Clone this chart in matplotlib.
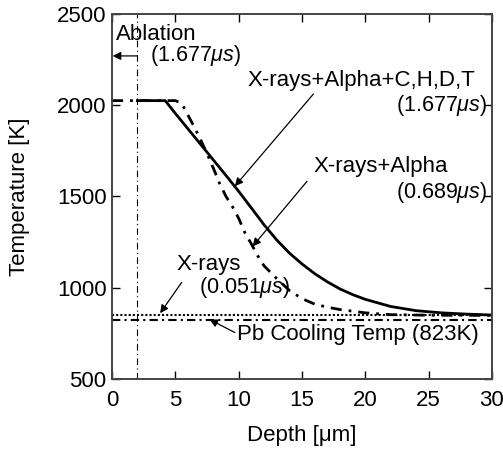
import numpy as np
import matplotlib
matplotlib.use('Agg')
import matplotlib.pyplot as plt

plt.rcParams['font.family'] = ['Liberation Sans', 'DejaVu Sans']
plt.rcParams['mathtext.fontset'] = 'custom'
plt.rcParams['mathtext.rm'] = 'Liberation Sans'
plt.rcParams['mathtext.it'] = 'Liberation Sans:italic'

# X-rays+Alpha+C,H,D,T (1.677us) - solid
depth_full = [2, 4.2, 5, 6, 7, 8, 9, 10, 11, 12, 13, 14, 15, 16, 17, 18, 19, 20, 22, 24, 26, 28, 30]
temp_full = [2025, 2025, 1955, 1870, 1785, 1700, 1615, 1528, 1437, 1345, 1262, 1190, 1130, 1077,
             1032, 993, 962, 936, 897, 874, 862, 855, 850]

# X-rays+Alpha (0.689us) - dash dot
depth_alpha = [0, 5.0, 5.5, 6, 6.5, 7, 7.5, 8, 8.5, 9, 9.5, 10, 10.5, 11, 11.5, 12, 12.5, 13,
               14, 15, 16, 17, 18, 20, 22, 25, 30]
temp_alpha = [2025, 2025, 2010, 1945, 1880, 1810, 1735, 1655, 1570, 1500, 1445, 1380, 1300, 1240,
              1175, 1120, 1085, 1050, 985, 940, 910, 893, 880, 862, 852, 849, 848]

# X-rays (0.051us) - dotted
depth_xray = [0, 30]
temp_xray = [850, 850]

pb_cooling = 823
ablation_depth = 2

fig = plt.figure(figsize=(5.03, 4.5), dpi=100)
ax = fig.add_subplot(111)
fig.subplots_adjust(left=0.2227, right=0.978, top=0.969, bottom=0.158)

ax.plot(depth_full, temp_full, color='black', lw=2)
ax.plot(depth_alpha, temp_alpha, color='black', lw=2, linestyle=(0, (4, 2.5, 1, 2.5)))
ax.plot(depth_xray, temp_xray, color='black', lw=1.5, linestyle=(0, (1, 1)))
ax.axhline(pb_cooling, color='black', lw=1.5, linestyle=(0, (4, 2, 1, 2)))
ax.axvline(ablation_depth, color='black', lw=0.8, linestyle=(0, (6, 3, 1, 3)))

ax.set_xlim(0, 30)
ax.set_ylim(500, 2500)
ax.set_xticks([0, 5, 10, 15, 20, 25, 30])
ax.set_yticks([500, 1000, 1500, 2000, 2500])
ax.tick_params(direction='in', top=True, right=True, length=6, width=1, labelsize=16, pad=4)
ax.tick_params(axis='x', pad=8)
for s in ax.spines.values():
    s.set_color('#444444')
    s.set_linewidth(1.4)

ax.set_xlabel('Depth [μm]', fontsize=16)
ax.set_ylabel('Temperature [K]', fontsize=16)
ax.xaxis.set_label_coords(0.5, -0.126)
ax.yaxis.set_label_coords(-0.216, 0.5)

fs = 16
fs2 = 15.5
ap = dict(arrowstyle='-|>', color='black', lw=0.9, mutation_scale=12, shrinkA=0, shrinkB=0)

ax.text(0.3, 2385, 'Ablation', fontsize=fs, va='center')
ax.text(3.0, 2270, r'(1.677$\mu s$)', fontsize=fs2, va='center')
ax.annotate('', xy=(0.05, 2270), xytext=(ablation_depth, 2270), arrowprops=ap)

ax.text(10.7, 2138, 'X-rays+Alpha+C,H,D,T', fontsize=fs, va='center')
ax.text(29.6, 2000, r'(1.677$\mu s$)', fontsize=fs2, va='center', ha='right')
ax.annotate('', xy=(9.7, 1556), xytext=(15.9, 2061), arrowprops=ap)

ax.text(15.9, 1666, 'X-rays+Alpha', fontsize=fs, va='center')
ax.text(29.6, 1523, r'(0.689$\mu s$)', fontsize=fs2, va='center', ha='right')
ax.annotate('', xy=(11.1, 1226), xytext=(15.4, 1583), arrowprops=ap)

ax.text(5.1, 1127, 'X-rays', fontsize=fs, va='center')
ax.text(6.9, 1001, r'(0.051$\mu s$)', fontsize=fs2, va='center')
ax.annotate('', xy=(3.8, 860), xytext=(5.5, 1029), arrowprops=ap)

ax.text(9.9, 743, 'Pb Cooling Temp (823K)', fontsize=fs, va='center')
ax.annotate('', xy=(7.7, 826), xytext=(9.7, 754), arrowprops=ap)

fig.savefig('out.png', dpi=100)
